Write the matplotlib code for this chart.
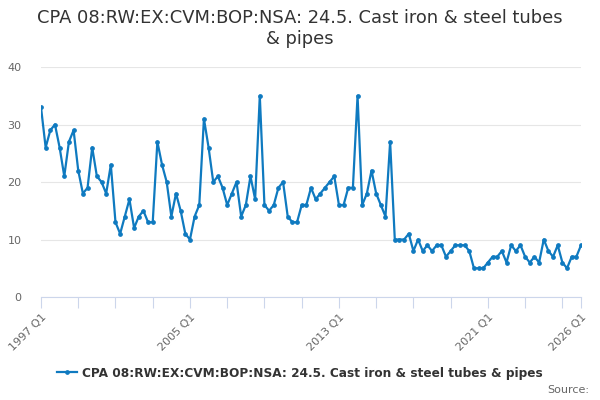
import numpy as np
import matplotlib.pyplot as plt

values = [33, 26, 29, 30, 26, 21, 27, 29, 22, 18, 19, 26, 21, 20, 18, 23,
          13, 11, 14, 17, 12, 14, 15, 13, 13, 27, 23, 20, 14, 18, 15, 11,
          10, 14, 16, 31, 26, 20, 21, 19, 16, 18, 20, 14, 16, 21, 17, 35,
          16, 15, 16, 19, 20, 14, 13, 13, 16, 16, 19, 17, 18, 19, 20, 21,
          16, 16, 19, 19, 35, 16, 18, 22, 18, 16, 14, 27, 10, 10, 10, 11,
          8, 10, 8, 9, 8, 9, 9, 7, 8, 9, 9, 9, 8, 5, 5, 5,
          6, 7, 7, 8, 6, 9, 8, 9, 7, 6, 7, 6, 10, 8, 7, 9,
          6, 5, 7, 7, 9]
quarters = [f"{y} Q{q}" for y in range(1997, 2027) for q in range(1, 5)][:len(values)]
shown_labels = ["1997 Q1", "2005 Q1", "2013 Q1", "2021 Q1", "2026 Q1"]
series_name = "CPA 08:RW:EX:CVM:BOP:NSA: 24.5. Cast iron & steel tubes & pipes"
title = "CPA 08:RW:EX:CVM:BOP:NSA: 24.5. Cast iron & steel tubes\n& pipes"

x = np.arange(len(values))

fig = plt.figure(figsize=(6, 4), dpi=100)
ax = fig.add_axes([41 / 600, 1 - 297 / 400, 540 / 600, 230 / 400])

line, = ax.plot(x, values, color="#0f7ac0", linewidth=1.6, marker="o", markersize=2.4)

ax.set_xlim(0, len(values) - 1)
ax.set_ylim(0, 40)
ax.set_yticks([0, 10, 20, 30, 40])
ax.grid(axis="y", color="#e6e6e6", linewidth=0.8)
ax.set_axisbelow(True)

tick_pos = list(range(0, len(values) - 1, 8)) + [len(values) - 1]
ax.set_xticks(tick_pos)
ax.set_xticklabels([quarters[i] if quarters[i] in shown_labels else "" for i in tick_pos],
                   rotation=45, ha="right", rotation_mode="anchor")
ax.tick_params(axis="x", length=8, color="#ccd6eb", labelcolor="#666666", labelsize=8, pad=3)
ax.tick_params(axis="y", length=0, labelcolor="#666666", labelsize=8, pad=14)

for side in ["top", "right", "left"]:
    ax.spines[side].set_visible(False)
ax.spines["bottom"].set_color("#ccd6eb")

fig.text(0.5, 0.978, title, ha="center", va="top", fontsize=12.9, color="#333333", linespacing=1.2)

fig.legend([line], [series_name], loc="center", bbox_to_anchor=(0.5, 1 - 373 / 400),
           frameon=False, prop={"weight": "bold", "size": 8.75}, labelcolor="#333333",
           handlelength=1.6, handletextpad=0.4)
fig.text(0.982, 1 - 390 / 400, "Source:", ha="right", va="center", fontsize=8, color="#666666")

fig.savefig("out.png", dpi=100)
